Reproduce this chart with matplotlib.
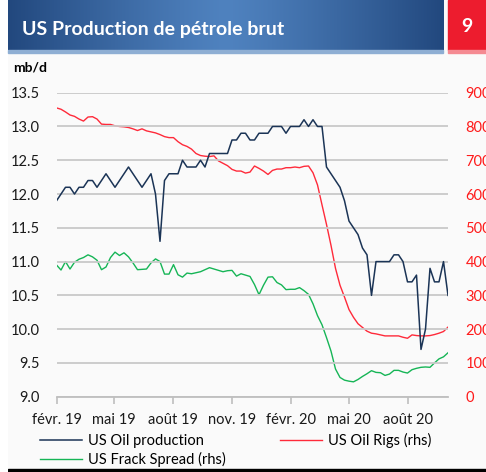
import matplotlib
matplotlib.use("Agg")
import matplotlib.pyplot as plt
import numpy as np
import pandas as pd

plt.rcParams['font.family'] = ['Lato', 'DejaVu Sans']

# weekly data, Feb 2019 -> Oct 2020
dates = pd.date_range("2019-02-01", periods=88, freq="7D")

oil_production = [
    11.9, 12.0, 12.1, 12.1, 12.0, 12.1, 12.1, 12.2, 12.2, 12.1,
    12.2, 12.3, 12.2, 12.1, 12.2, 12.3, 12.4, 12.3, 12.2, 12.1,
    12.2, 12.3, 12.0, 11.3, 12.2, 12.3, 12.3, 12.3, 12.5, 12.4,
    12.4, 12.4, 12.5, 12.4, 12.6, 12.6, 12.6, 12.6, 12.6, 12.8,
    12.8, 12.9, 12.9, 12.8, 12.8, 12.9, 12.9, 12.9, 13.0, 13.0,
    13.0, 12.9, 13.0, 13.0, 13.0, 13.1, 13.0, 13.1, 13.0, 13.0,
    12.4, 12.3, 12.2, 12.1, 11.9, 11.6, 11.5, 11.4, 11.2, 11.1,
    10.5, 11.0, 11.0, 11.0, 11.0, 11.1, 11.1, 11.0, 10.7, 10.7,
    10.8, 9.7, 10.0, 10.9, 10.7, 10.7, 11.0, 10.5,
]

oil_rigs = [
    855, 851, 843, 834, 830, 822, 816, 828, 829, 822,
    807, 806, 806, 802, 800, 799, 797, 793, 788, 793,
    787, 784, 781, 776, 770, 767, 767, 755, 746, 741,
    733, 720, 714, 712, 711, 713, 698, 691, 684, 673,
    668, 668, 662, 665, 683, 676, 668, 658, 670, 674,
    674, 678, 678, 680, 678, 682, 683, 663, 627, 568,
    510, 448, 380, 330, 295, 258, 235, 216, 205, 194,
    188, 186, 183, 180, 180, 180, 180, 176, 173, 183,
    181, 180, 180, 181, 184, 188, 193, 206,
]

frack_spread = [
    390, 375, 400, 378, 398, 407, 412, 420, 414, 404,
    376, 384, 412, 428, 418, 426, 414, 396, 376, 377,
    378, 396, 408, 400, 363, 363, 391, 361, 354, 366,
    364, 367, 370, 376, 382, 378, 374, 370, 373, 374,
    357, 364, 360, 356, 332, 302, 330, 354, 355, 338,
    331, 317, 318, 318, 323, 314, 303, 275, 240, 213,
    175, 135, 82, 57, 49, 46, 44, 51, 60, 68,
    77, 72, 71, 63, 67, 78, 78, 73, 70, 80,
    84, 87, 88, 87, 100, 112, 118, 130,
]

tick_dates = pd.to_datetime(["2019-02-01", "2019-05-01", "2019-08-01", "2019-11-01",
                             "2020-02-01", "2020-05-01", "2020-08-01"])
tick_labels = ["févr. 19", "mai 19", "août 19", "nov. 19", "févr. 20", "mai 20", "août 20"]

NAVY = "#1b3456"
RED = "#ff2a3a"
GREEN = "#16b556"

fig = plt.figure(figsize=(4.86, 4.72), dpi=100)
fig.patch.set_facecolor("white")

# light background panel
bg = fig.add_axes([8 / 486, 0, 1 - 8 / 486, 1])
bg.set_facecolor("#fafafa")
bg.set_xticks([]); bg.set_yticks([])
for s in bg.spines.values():
    s.set_visible(False)
bg.axhspan(0, 3 / 472, color="black")
bg.set_xlim(0, 1); bg.set_ylim(0, 1)

# header band with gradient
hdr = fig.add_axes([8 / 486, 1 - 50 / 472, (443 - 8) / 486, 50 / 472])
grad = np.linspace(-1, 1, 256)
grad = 1 - np.abs(grad) ** 1.2
c0 = np.array([0x22, 0x48, 0x7e]) / 255
c1 = np.array([0x4f, 0x82, 0xbf]) / 255
img = c0[None, :] + (c1 - c0)[None, :] * grad[:, None]
hdr.imshow(img[None, :, :], aspect="auto", extent=[0, 1, 0, 1])
hdr.axis("off")
hdr.text(0.032, 0.42, "US Production de pétrole brut", color="white", fontsize=14,
         fontweight="bold", va="center", ha="left", transform=hdr.transAxes)

fig.patches.append(plt.Rectangle((8 / 486, 1 - 53 / 472), (443 - 8) / 486, 3 / 472,
                                 transform=fig.transFigure, color="#8eaed3"))
fig.patches.append(plt.Rectangle((448 / 486, 1 - 50 / 472), 38 / 486, 50 / 472,
                                 transform=fig.transFigure, color="#ed1c2e"))
fig.patches.append(plt.Rectangle((448 / 486, 1 - 53 / 472), 38 / 486, 3 / 472,
                                 transform=fig.transFigure, color="#f58a92"))
fig.text(467 / 486, 1 - 27 / 472, "9", color="white", fontsize=14, fontweight="bold",
         ha="center", va="center")

fig.text(13 / 486, 1 - 68 / 472, "mb/d", fontsize=10, fontweight="bold", va="center")

ax = fig.add_axes([56.5 / 486, 75.3 / 472, (448 - 56.5) / 486, (396.7 - 92.7) / 472])
ax.patch.set_alpha(0)
ax2 = ax.twinx()

ax.set_ylim(9.0, 13.5)
ax.set_yticks(np.arange(9.0, 13.51, 0.5))
ax.set_yticklabels([f"{v:.1f}" for v in np.arange(9.0, 13.51, 0.5)])
ax.grid(axis="y", color="#c9c9c9", linewidth=1.3)
ax.set_axisbelow(True)

ax2.set_ylim(0, 900)
ax2.set_yticks(range(0, 901, 100))

l1, = ax.plot(dates, oil_production, color=NAVY, lw=1.1, zorder=5, label="US Oil production")
l2, = ax2.plot(dates, oil_rigs, color=RED, lw=1.0, label="US Oil Rigs (rhs)")
l3, = ax2.plot(dates, frack_spread, color=GREEN, lw=1.0, label="US Frack Spread (rhs)")
# keep production on top
ax.set_zorder(ax2.get_zorder() + 1)

ax.set_xlim(dates[0], dates[-1])
ax.set_xticks(tick_dates)
ax.set_xticklabels(tick_labels)

for a in (ax, ax2):
    for s in a.spines.values():
        s.set_visible(False)
ax.spines["bottom"].set_visible(True)
ax.spines["bottom"].set_color("#bfbfbf")
ax.spines["bottom"].set_linewidth(1.3)

ax.tick_params(axis="x", length=5, width=1.2, color="#bfbfbf", labelsize=10.5, pad=7,
               labelcolor="#1a1a1a")
ax.tick_params(axis="y", length=0, labelsize=10.5, pad=12, labelcolor="#1a1a1a")
ax2.tick_params(axis="y", length=0, labelsize=10.5, pad=12.5, labelcolor="#ff1a1a")

fig.legend(handles=[l1, l3, l2], loc="upper left", bbox_to_anchor=(40 / 486, 1 - 433 / 472),
           ncol=2, frameon=False, fontsize=10.5, handlelength=2.9, handletextpad=0.4,
           columnspacing=3.7, labelspacing=0.25, borderaxespad=0, borderpad=0)

fig.savefig("out.png", dpi=100, facecolor=fig.get_facecolor())
